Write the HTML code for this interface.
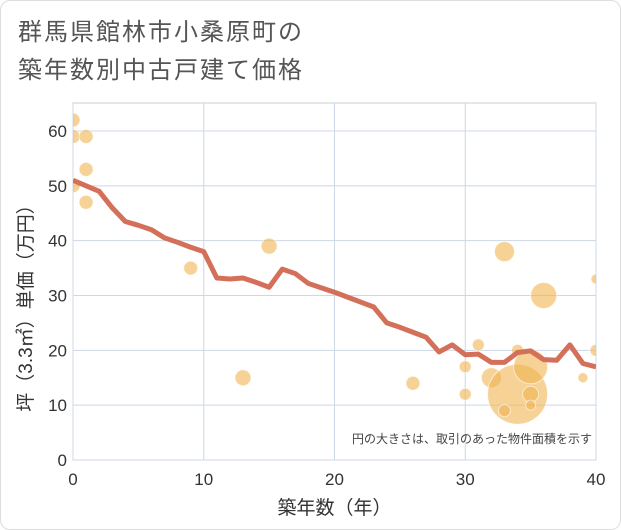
<!DOCTYPE html>
<html><head><meta charset="utf-8"><style>
body{margin:0;background:#fff;font-family:"Liberation Sans","Noto Sans CJK JP",sans-serif}
#card{position:absolute;left:0;top:0;width:619px;height:528px;border:1px solid #ddd;border-radius:10px;background:#fff}
</style></head><body>
<div id="card">
<svg id="chart" width="621" height="530" style="position:absolute;left:-1px;top:-1px">
<text x="18" y="40" font-size="24" letter-spacing="2" fill="#555">群馬県館林市小桑原町の</text>
<text x="18" y="78" font-size="24" letter-spacing="2" fill="#555">築年数別中古戸建て価格</text>
</svg></div>
<script>
const years=[0,1,2,3,4,5,6,7,8,9,10,11,12,13,14,15,16,17,18,19,20,21,22,23,24,25,26,27,28,29,30,31,32,33,34,35,36,37,38,39,40];
const avgPrice=[51,50,49,46,43.5,42.8,42,40.5,39.7,38.8,38,33.2,33,33.2,32.4,31.5,34.8,34,32.2,31.4,30.6,29.7,28.8,27.9,25,24.2,23.3,22.4,19.7,21,19.2,19.3,17.8,17.8,19.6,19.9,18.3,18.2,21,17.6,17];
const bubbleX=[0,0,1,1,0,1,9,15,13,26,30,30,31,32,33,34,34,35,35,35,36,39,40,40,33];
const bubbleY=[62,59,59,53,50,47,35,39,15,14,17,12,21,15,38,20,12,17,12,10,30,15,33,20,9];
const bubbleR=[7,7,7,7,7,7,7,8,8,7,6,6,6,10,10,6,30,17,8,5,13,5,5,6,6];
const xTicks=[0,10,20,30,40];
const yTicks=[0,10,20,30,40,50,60];
const svg=document.getElementById('chart');const NS='http://www.w3.org/2000/svg';
const L=73,R=596,T=103,B=460;
const xs=v=>L+(R-L)*v/40, ys=v=>B-(B-131)*v/60;
function mk(t,a,name,p){const e=document.createElementNS(NS,t);for(const k in a)e.setAttribute(k,a[k]);


(p||svg).appendChild(e);return e;}
mk('rect',{x:L,y:T,width:R-L,height:B-T,fill:'#fff',stroke:'#ccc'},'plot-area');
xTicks.forEach(v=>{mk('line',{x1:xs(v),x2:xs(v),y1:T,y2:B,stroke:'#ccd8e6'},'x-gridline');
const t=mk('text',{x:xs(v),y:B+25,'text-anchor':'middle','font-size':17,fill:'#333'},'x-tick-label');t.textContent=v;});
yTicks.forEach(v=>{mk('line',{x1:L,x2:R,y1:ys(v),y2:ys(v),stroke:'#ccd8e6'},'y-gridline');
const t=mk('text',{x:L-6,y:ys(v)+6,'text-anchor':'end','font-size':17,fill:'#333'},'y-tick-label');t.textContent=v;});
const cp=mk('clipPath',{id:'cp'},'plot-clip');mk('rect',{x:L,y:T,width:R-L,height:B-T},'plot-clip-rect',cp);
const g=mk('g',{'clip-path':'url(#cp)'},'bubbles');
bubbleX.forEach((x,i)=>mk('circle',{cx:xs(x),cy:ys(bubbleY[i]),r:bubbleR[i],fill:'rgba(240,180,80,0.6)',stroke:'rgba(255,255,255,0.6)','stroke-width':1},'bubble',g));
mk('polyline',{points:years.map((y,i)=>xs(y)+','+ys(avgPrice[i])).join(' '),fill:'none',stroke:'#d4705a','stroke-width':5,'stroke-linejoin':'round','clip-path':'url(#cp)'},'avg-price-line');
let t=mk('text',{x:R-4,y:443,'text-anchor':'end','font-size':12,fill:'#444'},'bubble-size-note');t.textContent='円の大きさは、取引のあった物件面積を示す';
t=mk('text',{x:(L+R)/2,y:514,'text-anchor':'middle','font-size':19,fill:'#333'},'x-axis-title');t.textContent='築年数（年）';
t=mk('text',{x:0,y:0,'text-anchor':'middle','font-size':19,fill:'#333',transform:`translate(32,${(T+B)/2+22}) rotate(-90)`},'y-axis-title');t.textContent='坪（3.3㎡）単価（万円）';
</script></body></html>
